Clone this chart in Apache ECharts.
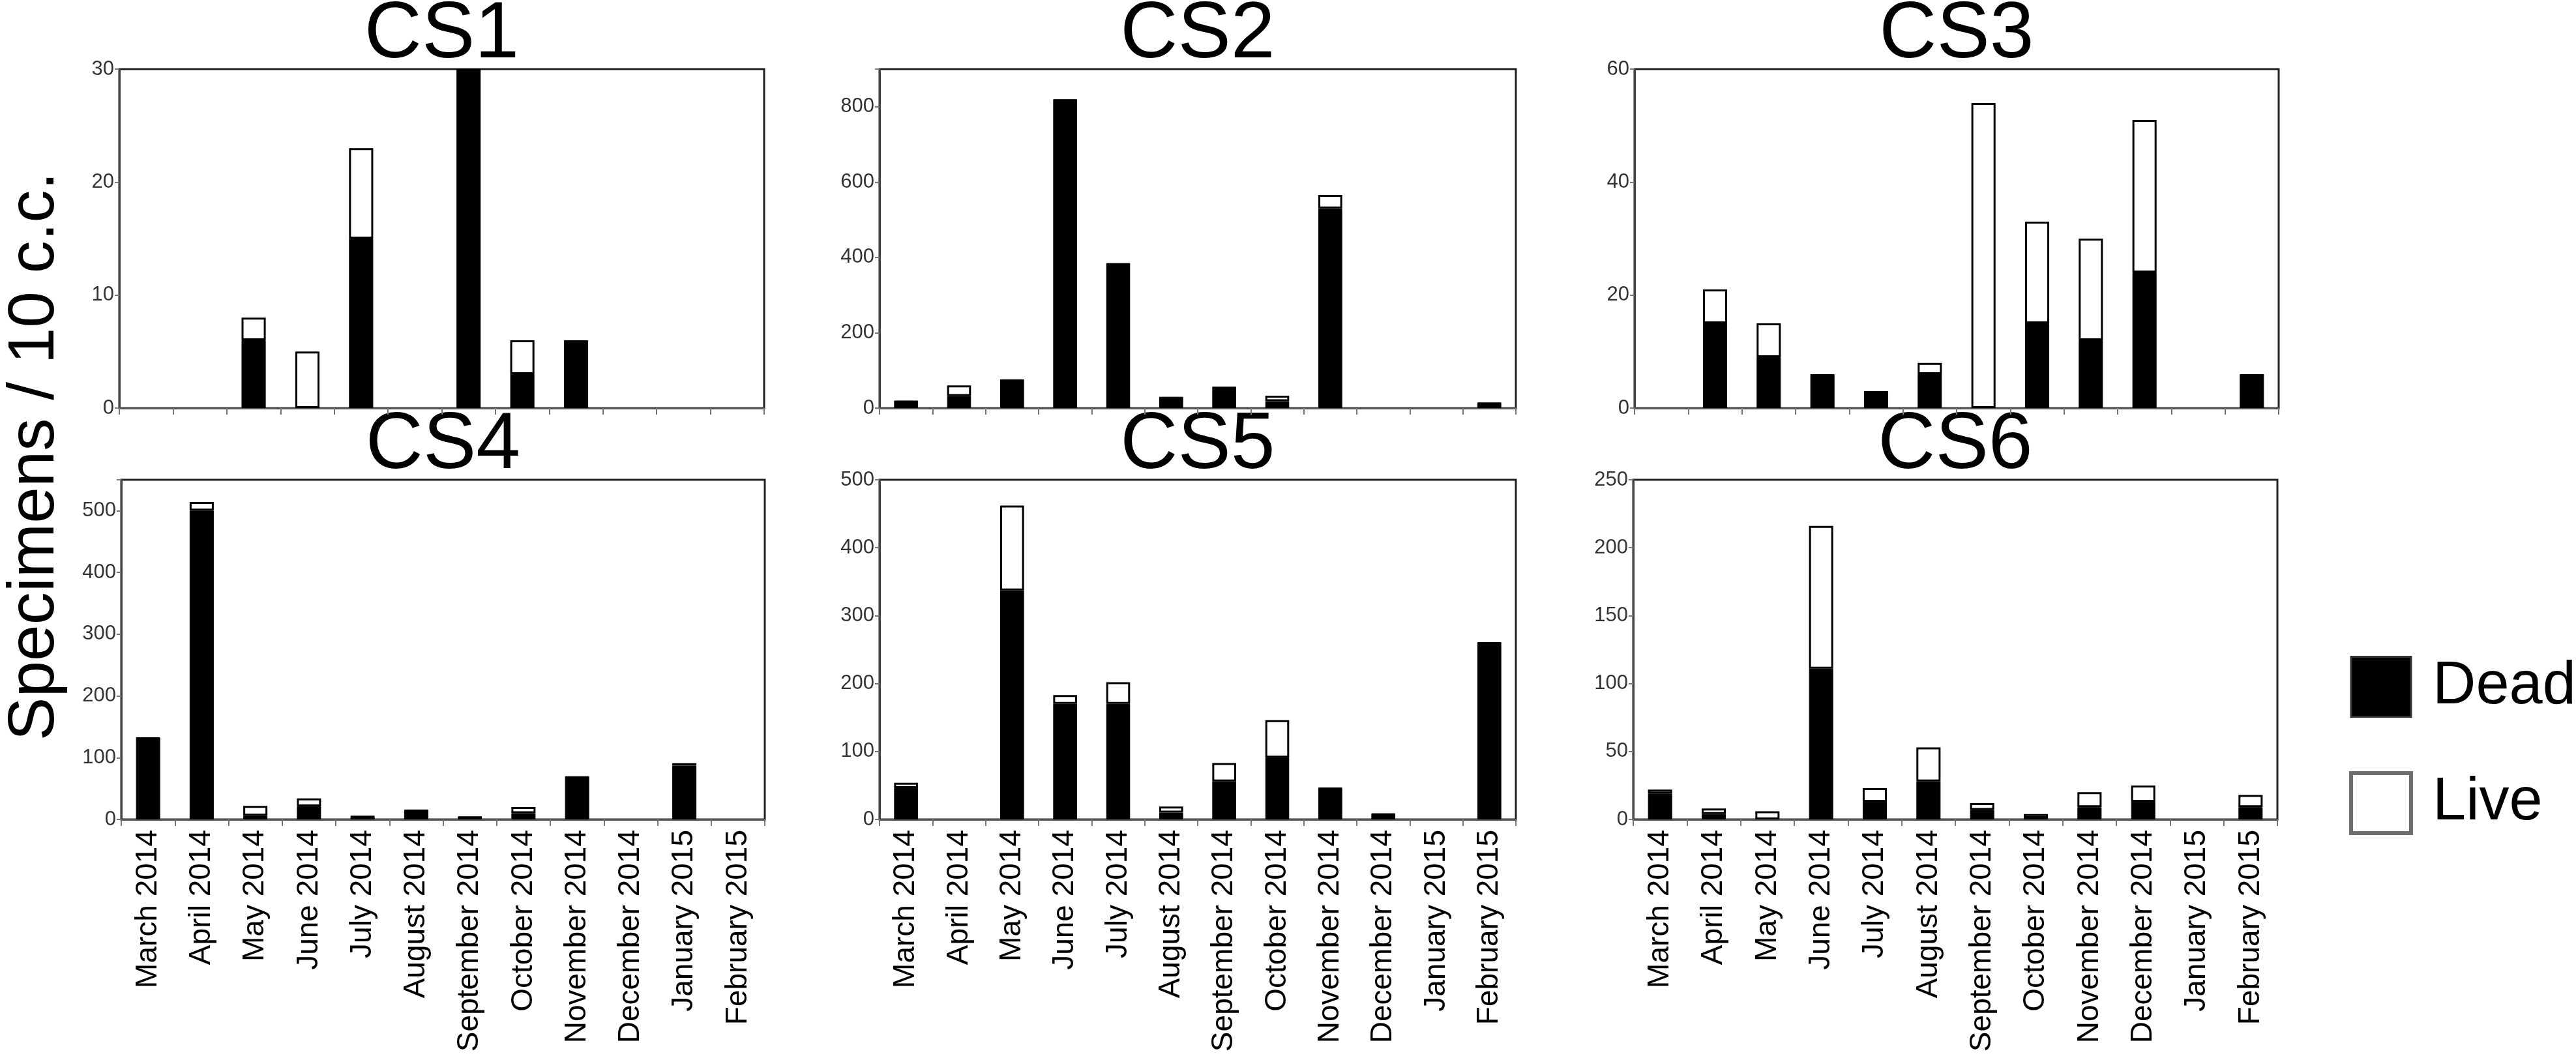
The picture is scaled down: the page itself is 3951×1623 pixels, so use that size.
<!DOCTYPE html>
<html>
<head>
<meta charset="utf-8">
<script src="https://cdn.jsdelivr.net/npm/echarts@6/dist/echarts.min.js"></script>
<style>
  html, body { margin: 0; padding: 0; background: #fff; }
  #chart { width: 3951px; height: 1623px; }
</style>
</head>
<body>
<div id="chart"></div>
<script>
// Sampling months (same for every station)
var months = ['March 2014', 'April 2014', 'May 2014', 'June 2014', 'July 2014', 'August 2014',
              'September 2014', 'October 2014', 'November 2014', 'December 2014', 'January 2015', 'February 2015'];

var stations = ['CS1', 'CS2', 'CS3', 'CS4', 'CS5', 'CS6'];

// Specimens / 10 c.c. - dead and live counts per month
var cs1Dead = [0, 0, 6, 0, 15, 0, 30, 3, 6, 0, 0, 0];
var cs1Live = [0, 0, 2, 5, 8, 0, 0, 3, 0, 0, 0, 0];

var cs2Dead = [20, 32, 76, 820, 385, 30, 57, 18, 530, 0, 0, 15];
var cs2Live = [0, 28, 0, 0, 0, 0, 0, 15, 36, 0, 0, 0];

var cs3Dead = [0, 15, 9, 6, 3, 6, 0, 15, 12, 24, 0, 6];
var cs3Live = [0, 6, 6, 0, 0, 2, 54, 18, 18, 27, 0, 0];

var cs4Dead = [133, 500, 6, 21, 6, 16, 5, 10, 70, 0, 87, 0];
var cs4Live = [0, 14, 16, 13, 0, 0, 0, 10, 0, 0, 4, 0];

var cs5Dead = [46, 0, 337, 170, 170, 10, 56, 91, 47, 9, 0, 261];
var cs5Live = [8, 0, 125, 13, 32, 9, 27, 55, 0, 0, 0, 0];

var cs6Dead = [19, 4, 0, 111, 13, 28, 7, 1, 9, 13, 0, 9];
var cs6Live = [3, 4, 6, 105, 10, 25, 5, 3, 11, 12, 0, 9];

// y axis ranges per panel
var yMax = [30, 900, 60, 550, 500, 250];
var yStep = [10, 200, 20, 100, 100, 50];

var deadAll = [cs1Dead, cs2Dead, cs3Dead, cs4Dead, cs5Dead, cs6Dead];
var liveAll = [cs1Live, cs2Live, cs3Live, cs4Live, cs5Live, cs6Live];

var chart = echarts.init(document.getElementById('chart'));

var FONT = "'Liberation Sans', Arial, sans-serif";
var NARROW = "'Liberation Sans Narrow', 'Liberation Sans', Arial, sans-serif";

// panel boxes in pixels
var boxes = [
    { left: 183, top: 106, width: 989, height: 520 },
    { left: 1349, top: 106, width: 976, height: 520 },
    { left: 2507, top: 106, width: 988, height: 520 },
    { left: 186, top: 736, width: 987, height: 521 },
    { left: 1349, top: 736, width: 976, height: 521 },
    { left: 2505, top: 736, width: 988, height: 521 }
];

var grids = [], xAxes = [], yAxes = [], series = [], graphics = [];

boxes.forEach(function(b, i) {
    var bottomRow = i >= 3;
    grids.push({
        left: b.left, top: b.top, width: b.width, height: b.height,
        show: true, borderColor: '#222', borderWidth: 3, backgroundColor: 'transparent'
    });
    xAxes.push({
        type: 'category',
        gridIndex: i,
        data: months,
        boundaryGap: true,
        axisLine: { lineStyle: { color: '#555', width: 3 } },
        axisTick: { show: true, length: 10, lineStyle: { color: '#777', width: 2 } },
        axisLabel: {
            show: bottomRow,
            interval: 0,
            rotate: 90,
            margin: 16,
            fontSize: 46,
            fontFamily: FONT,
            color: '#000'
        }
    });
    yAxes.push({
        type: 'value',
        gridIndex: i,
        min: 0,
        max: yMax[i],
        interval: yStep[i],
        splitLine: { show: false },
        axisLine: { show: true, lineStyle: { color: '#444', width: 3 } },
        axisTick: { show: true, length: 7, lineStyle: { color: '#777', width: 2 } },
        axisLabel: {
            fontSize: 31,
            fontFamily: NARROW,
            color: '#333',
            margin: 8,
            formatter: function(v) {
                return (v % yStep[i] === 0) ? String(v) : '';
            }
        }
    });
    series.push({
        name: 'Dead',
        type: 'bar',
        stack: 'cs' + i,
        xAxisIndex: i,
        yAxisIndex: i,
        barWidth: '45%',
        data: deadAll[i].map(function(v) { return v === 0 ? '-' : v; }),
        itemStyle: { color: '#000', borderColor: '#000', borderWidth: 1 },
        emphasis: { disabled: true }
    });
    series.push({
        name: 'Live',
        type: 'bar',
        stack: 'cs' + i,
        xAxisIndex: i,
        yAxisIndex: i,
        barWidth: '45%',
        data: liveAll[i].map(function(v) { return v === 0 ? '-' : v; }),
        itemStyle: { color: '#fff', borderColor: '#000', borderWidth: 3 },
        emphasis: { disabled: true }
    });
    // panel title
    graphics.push({
        type: 'text',
        x: b.left + b.width / 2,
        y: b.top - 52,
        style: {
            text: stations[i],
            font: '122px ' + FONT,
            fill: '#000',
            align: 'center',
            verticalAlign: 'middle',
            textAlign: 'center',
            textVerticalAlign: 'middle'
        }
    });
});

// shared y-axis title
graphics.push({
    type: 'text',
    x: 54,
    y: 700,
    rotation: Math.PI / 2,
    style: {
        text: 'Specimens / 10 c.c.',
        font: '100px ' + FONT,
        fill: '#000',
        align: 'center',
        verticalAlign: 'middle',
        textAlign: 'center',
        textVerticalAlign: 'middle'
    }
});

chart.setOption({
    backgroundColor: '#fff',
    animation: false,
    grid: grids,
    xAxis: xAxes,
    yAxis: yAxes,
    series: series,
    graphic: graphics,
    legend: {
        orient: 'vertical',
        left: 3598,
        top: 1001,
        icon: 'rect',
        itemWidth: 92,
        itemHeight: 92,
        itemGap: 82,
        selectedMode: false,
        textStyle: {
            fontSize: 92,
            lineHeight: 92,
            fontFamily: FONT,
            color: '#000',
            padding: [0, 0, 0, 28]
        },
        data: [
            { name: 'Dead', itemStyle: { color: '#000', borderColor: '#333', borderWidth: 3 } },
            { name: 'Live', itemStyle: { color: '#fff', borderColor: '#6e6e6e', borderWidth: 6 } }
        ]
    }
});

window.addEventListener('resize', function() {
    chart.resize();
});
</script>
</body>
</html>
